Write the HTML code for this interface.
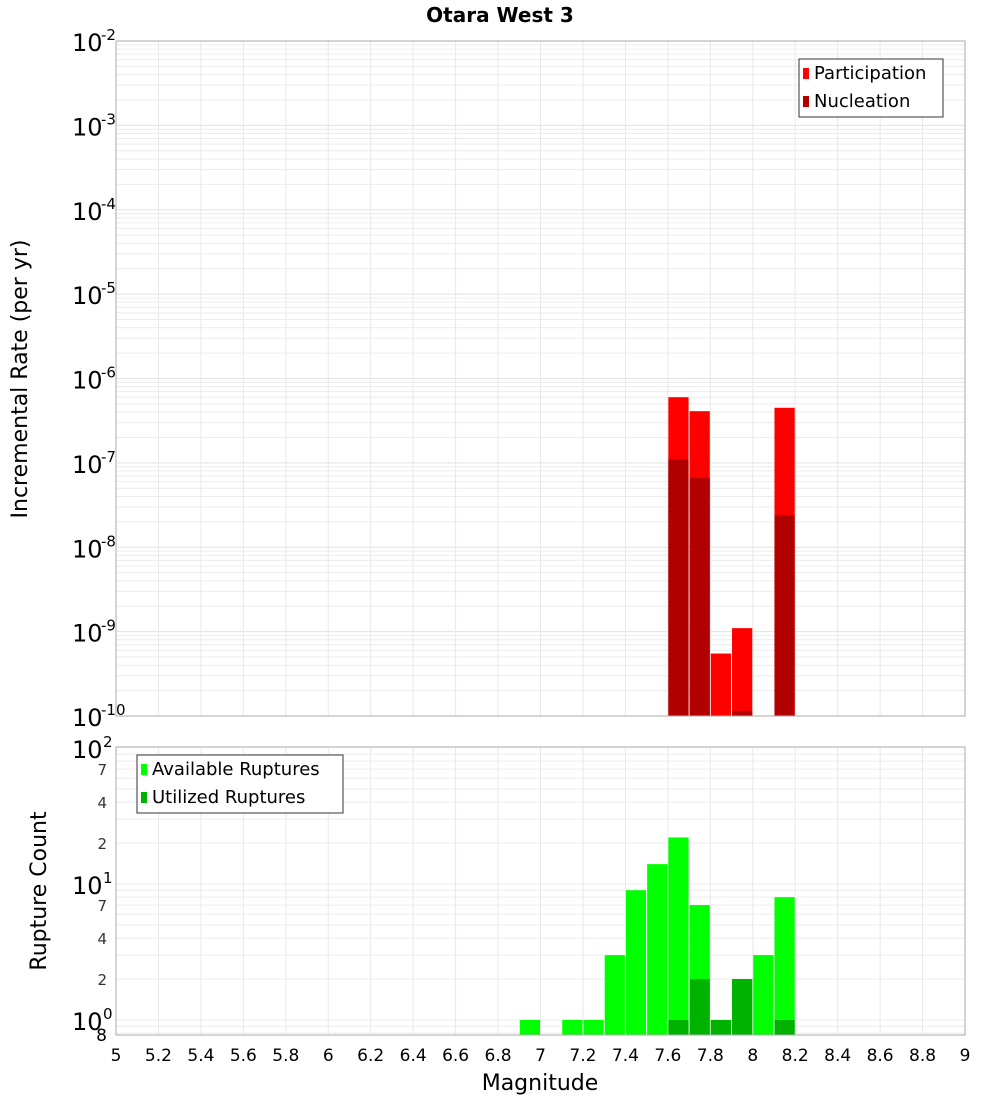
<!DOCTYPE html>
<html><head><meta charset="utf-8"><style>
body{margin:0;background:#fff;}
svg text{font-family:"DejaVu Sans","Liberation Sans",sans-serif;}
</style></head><body>
<svg id="chart" width="1000" height="1100" xmlns="http://www.w3.org/2000/svg">
<text x="500" y="22" text-anchor="middle" font-size="20" font-weight="bold">Otara West 3</text>
<g id="topg"></g><g id="botg"></g>
<text transform="translate(27,379) rotate(-90)" text-anchor="middle" font-size="22">Incremental Rate (per yr)</text>
<text transform="translate(46,891) rotate(-90)" text-anchor="middle" font-size="22">Rupture Count</text>
<text x="540" y="1090" text-anchor="middle" font-size="22">Magnitude</text>
</svg>
<script>
const mags = [6.95,7.15,7.25,7.35,7.45,7.55,7.65,7.75,7.85,7.95,8.05,8.15];
const participation = [0,0,0,0,0,0,6.0e-7,4.1e-7,5.5e-10,1.1e-9,0,4.5e-7];
const nucleation = [0,0,0,0,0,0,1.1e-7,6.6e-8,0,1.15e-10,0,2.4e-8];
const available = [1,1,1,3,9,14,22,7,1,2,3,8];
const utilized = [0,0,0,0,0,0,1,2,1,2,0,1];
const xTicks = [5,5.2,5.4,5.6,5.8,6,6.2,6.4,6.6,6.8,7,7.2,7.4,7.6,7.8,8,8.2,8.4,8.6,8.8,9];
const topExps = [-2,-3,-4,-5,-6,-7,-8,-9,-10];
const botMinor = [2,4,7,20,40,70];

const NS="http://www.w3.org/2000/svg";
const X0=116,X1=965;
const xs=m=>X0+(m-5)/4*(X1-X0);
const TY0=41,TY1=716;
const ty=v=>TY0+(-2-Math.log10(v))/8*(TY1-TY0);
const BY0=748,BPD=136;
const by=v=>BY0+(2-Math.log10(v))*BPD;
const BB=1035;
function mk(p,tag,at){const e=document.createElementNS(NS,tag);for(const k in at)e.setAttribute(k,at[k]);p.appendChild(e);return e;}
const topG=document.getElementById('topg'),botG=document.getElementById('botg');

for(let d=-10;d<-2;d++){for(let k=1;k<10;k++){const y=ty(k*Math.pow(10,d));const g=mk(topG,'line',{x1:X0,x2:X1,y1:y,y2:y,stroke:k==1?'#e2e2e2':'#ececec','stroke-width':1});

}}
for(let d=-1;d<2;d++){for(let k=1;k<10;k++){const v=k*Math.pow(10,d);const y=by(v);if(y>BB||y<BY0)continue;const g=mk(botG,'line',{x1:X0,x2:X1,y1:y,y2:y,stroke:'#ececec','stroke-width':1});

}}
xTicks.forEach(m=>{const x=xs(m);
const a=mk(topG,'line',{x1:x,x2:x,y1:TY0,y2:TY1,stroke:'#e8e8e8'});


const b=mk(botG,'line',{x1:x,x2:x,y1:BY0,y2:BB,stroke:'#e8e8e8'});


const t=mk(botG,'text',{x:x,y:1061,'text-anchor':'middle','font-size':17});t.textContent=String(m);

});

const bw=(X1-X0)/40;
mags.forEach((m,i)=>{const x=xs(m)-bw/2+0.5;
if(participation[i]>0){const r=mk(topG,'rect',{x:x,y:ty(participation[i]),width:bw-1,height:TY1-ty(participation[i]),fill:'#ff0000'});

}
if(nucleation[i]>0){const r=mk(topG,'rect',{x:x,y:ty(nucleation[i]),width:bw-1,height:TY1-ty(nucleation[i]),fill:'#b20000'});

}
if(available[i]>0){const r=mk(botG,'rect',{x:x,y:by(available[i]),width:bw-1,height:BB-by(available[i]),fill:'#00ff00'});

}
if(utilized[i]>0){const r=mk(botG,'rect',{x:x,y:by(utilized[i]),width:bw-1,height:BB-by(utilized[i]),fill:'#00b200'});

}
});

const f1=mk(topG,'rect',{x:X0,y:TY0,width:X1-X0,height:TY1-TY0,fill:'none',stroke:'#aaa'});


const f2=mk(botG,'rect',{x:X0,y:BY0-1,width:X1-X0,height:BB-BY0+1,fill:'none',stroke:'#aaa'});



topExps.forEach(e=>{const y=ty(Math.pow(10,e));
const t=mk(topG,'text',{x:72,y:y+10,'font-size':24});t.textContent='10';


const s=mk(topG,'text',{x:101,y:y-1,'font-size':15});s.textContent=String(e);

});
[[100,'2'],[10,'1'],[1,'0']].forEach(([v,e])=>{const y=by(v);
const t=mk(botG,'text',{x:72,y:y+10,'font-size':24});t.textContent='10';


const s=mk(botG,'text',{x:103,y:y-1,'font-size':15});s.textContent=e;

});
botMinor.forEach(v=>{const y=by(v);const t=mk(botG,'text',{x:107,y:y+6,'font-size':15,'text-anchor':'end',fill:'#333'});t.textContent=String(v>=10?v/10:v);

});
const e8=mk(botG,'text',{x:107,y:1041,'font-size':17,'text-anchor':'end'});e8.textContent='8';



function legend(p,x,y,w,items,name){const g=mk(p,'g',{});


mk(g,'rect',{x:x,y:y,width:w,height:58,fill:'#fff',stroke:'#333'});
items.forEach((it,i)=>{mk(g,'rect',{x:x+4,y:y+9+i*28,width:6,height:11,fill:it[1]});
const t=mk(g,'text',{x:x+15,y:y+20+i*28,'font-size':18});t.textContent=it[0];

});}
legend(topG,799,59,144,[['Participation','#ff0000'],['Nucleation','#b20000']],'top-legend');
legend(botG,137,755,206,[['Available Ruptures','#00ff00'],['Utilized Ruptures','#00b200']],'bottom-legend');
</script>
</body></html>
